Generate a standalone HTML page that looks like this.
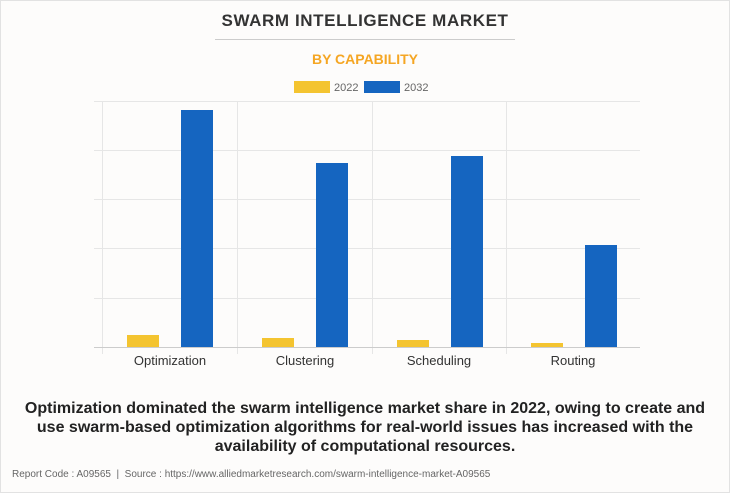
<!DOCTYPE html>
<html><head><style>
body{margin:0;width:730px;height:493px;background:#fdfcfb;font-family:"Liberation Sans",Arial,sans-serif;position:relative;overflow:hidden}
.b{position:absolute;box-sizing:border-box;border:1px solid #e2e2e2;left:0;top:0;width:730px;height:493px}
.t{position:absolute;left:0;width:730px;text-align:center}
</style></head><body>
<div class="b"></div>
<div class="t" style="top:11px;font-size:17px;font-weight:bold;color:#333;letter-spacing:0.6px">SWARM INTELLIGENCE MARKET</div>
<div style="position:absolute;left:215px;top:39px;width:300px;height:1px;background:#ccc"></div>
<div class="t" style="top:51px;font-size:14px;font-weight:bold;color:#f5a623">BY CAPABILITY</div>
<svg width="730" height="493" style="position:absolute;left:0;top:0" font-family="Liberation Sans, Arial, sans-serif">
<rect x="294" y="81" width="36" height="12" fill="#f4c430"/>
<text x="334" y="91" font-size="11" fill="#666">2022</text>
<rect x="364" y="81" width="36" height="12" fill="#1565c0"/>
<text x="404" y="91" font-size="11" fill="#666">2032</text>
<g stroke="#e6e6e6" stroke-width="1">
<line x1="94" y1="101.5" x2="640" y2="101.5"/>
<line x1="94" y1="150.5" x2="640" y2="150.5"/>
<line x1="94" y1="199.5" x2="640" y2="199.5"/>
<line x1="94" y1="248.5" x2="640" y2="248.5"/>
<line x1="94" y1="298.5" x2="640" y2="298.5"/>
<line x1="102.5" y1="101" x2="102.5" y2="354"/>
<line x1="237.5" y1="101" x2="237.5" y2="354"/>
<line x1="372.5" y1="101" x2="372.5" y2="354"/>
<line x1="506.5" y1="101" x2="506.5" y2="354"/>
</g>
<g fill="#f4c430">
<rect x="127" y="335" width="32" height="12"/>
<rect x="262" y="338" width="32" height="9"/>
<rect x="397" y="340" width="32" height="7"/>
<rect x="531" y="343" width="32" height="4"/>
</g>
<g fill="#1565c0">
<rect x="181" y="110" width="32" height="237"/>
<rect x="316" y="163" width="32" height="184"/>
<rect x="451" y="156" width="32" height="191"/>
<rect x="585" y="245" width="32" height="102"/>
</g>
<line x1="94" y1="347.5" x2="640" y2="347.5" stroke="#ccc"/>
<g font-size="13" fill="#333" text-anchor="middle">
<text x="170" y="365">Optimization</text>
<text x="305" y="365">Clustering</text>
<text x="439" y="365">Scheduling</text>
<text x="573" y="365">Routing</text>
</g>
</svg>
<div class="t" style="top:399px;font-size:16px;font-weight:bold;color:#222;line-height:19px">Optimization dominated the swarm intelligence market share in 2022, owing to create and<br>use swarm-based optimization algorithms for real-world issues has increased with the<br>availability of computational resources.</div>
<div style="position:absolute;left:12px;top:469px;font-size:10px;color:#666">Report Code : A09565 &nbsp;| &nbsp;Source : https://www.alliedmarketresearch.com/swarm-intelligence-market-A09565</div>
</body></html>
